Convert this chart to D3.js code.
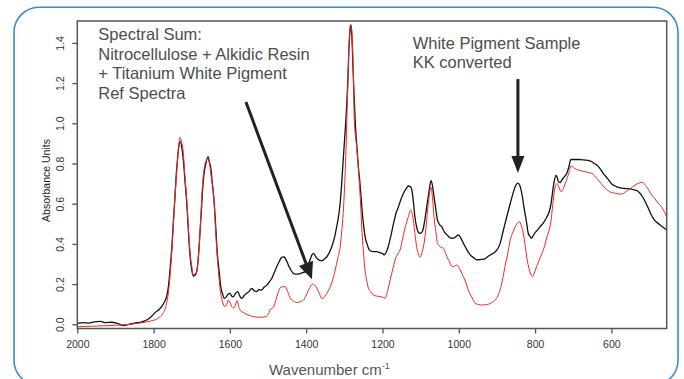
<!DOCTYPE html>
<html>
<head>
<meta charset="utf-8">
<script src="https://cdn.jsdelivr.net/npm/d3@7"></script>
<style>
  body { margin: 0; background: #fff; }
  svg { display: block; font-family: "Liberation Sans", Arial, sans-serif; }
</style>
</head>
<body>
<div id="chart"></div>
<script>
// White pigment sample (black) vs spectral sum of reference spectra (red)
// [wavenumber cm-1, absorbance]
const sampleSpectrum = [
  [2000,0.004],[1985,0.008],[1970,0.006],[1955,0.012],[1940,0.014],[1925,0.008],[1910,0.010],[1895,0.004],
  [1880,-0.006],[1865,0.000],[1850,0.006],[1835,0.010],[1818,0.021],[1805,0.040],[1796,0.058],[1785,0.075],
  [1779,0.088],[1772,0.11],[1766,0.137],[1761,0.19],[1757,0.27],[1752,0.39],[1748,0.519],[1744,0.63],
  [1741,0.734],[1737,0.83],[1733,0.895],[1730,0.909],[1726,0.88],[1722,0.817],[1718,0.72],[1713,0.602],
  [1709,0.47],[1705,0.353],[1700,0.27],[1696,0.24],[1691,0.245],[1687,0.262],[1682,0.35],[1678,0.469],
  [1674,0.59],[1671,0.685],[1667,0.76],[1663,0.80],[1657,0.834],[1654,0.81],[1650,0.776],[1646,0.70],
  [1641,0.602],[1637,0.48],[1633,0.353],[1628,0.26],[1624,0.187],[1619,0.15],[1615,0.129],[1610,0.135],
  [1605,0.15],[1600,0.154],[1595,0.14],[1591,0.137],[1585,0.155],[1579,0.162],[1574,0.14],[1569,0.129],
  [1562,0.145],[1556,0.154],[1549,0.165],[1543,0.179],[1537,0.168],[1530,0.162],[1524,0.172],[1517,0.17],
  [1510,0.185],[1503,0.195],[1497,0.21],[1490,0.229],[1483,0.26],[1477,0.287],[1470,0.315],[1464,0.333],
  [1458,0.335],[1455,0.328],[1450,0.31],[1445,0.287],[1440,0.27],[1434,0.254],[1428,0.25],[1421,0.25],
  [1412,0.255],[1403,0.262],[1396,0.29],[1390,0.32],[1385,0.345],[1381,0.353],[1376,0.34],[1372,0.328],
  [1365,0.318],[1359,0.316],[1352,0.325],[1346,0.336],[1340,0.355],[1333,0.386],[1326,0.43],[1320,0.486],
  [1315,0.54],[1311,0.602],[1307,0.70],[1303,0.817],[1299,0.93],[1296,1.016],[1291,1.207],[1288,1.373],
  [1285,1.46],[1283,1.49],[1281,1.46],[1279,1.373],[1276,1.207],[1271,0.99],[1267,0.88],[1263,0.78],
  [1259,0.70],[1254,0.58],[1250,0.50],[1245,0.43],[1241,0.403],[1237,0.38],[1233,0.366],[1224,0.362],
  [1215,0.361],[1206,0.355],[1198,0.35],[1196,0.345],[1190,0.36],[1185,0.386],[1178,0.44],[1171,0.502],
  [1165,0.55],[1158,0.585],[1152,0.62],[1145,0.652],[1138,0.675],[1132,0.688],[1127,0.685],[1123,0.668],
  [1119,0.61],[1115,0.535],[1110,0.48],[1103,0.453],[1098,0.455],[1094,0.469],[1089,0.52],[1084,0.585],
  [1078,0.66],[1073,0.715],[1069,0.69],[1065,0.635],[1060,0.57],[1056,0.519],[1050,0.495],[1045,0.486],
  [1038,0.46],[1031,0.445],[1024,0.432],[1018,0.428],[1010,0.432],[1005,0.44],[1001,0.445],[995,0.43],
  [988,0.403],[980,0.375],[970,0.345],[960,0.33],[953,0.32],[945,0.322],[935,0.323],[925,0.335],
  [918,0.345],[908,0.355],[900,0.37],[892,0.40],[883,0.469],[875,0.53],[865,0.602],[858,0.65],
  [852,0.685],[845,0.702],[840,0.69],[835,0.652],[829,0.58],[822,0.502],[818,0.453],[813,0.436],
  [810,0.428],[805,0.44],[800,0.456],[793,0.47],[787,0.486],[778,0.505],[769,0.535],[763,0.56],
  [758,0.602],[754,0.66],[751,0.70],[745,0.741],[742,0.73],[739,0.71],[734,0.705],[730,0.718],
  [723,0.735],[717,0.75],[712,0.78],[706,0.82],[696,0.82],[686,0.82],[676,0.818],[669,0.817],
  [660,0.815],[651,0.809],[645,0.80],[638,0.793],[630,0.775],[621,0.75],[610,0.725],[599,0.698],
  [587,0.685],[573,0.677],[560,0.675],[547,0.672],[538,0.668],[529,0.66],[522,0.645],[516,0.627],
  [510,0.605],[503,0.577],[497,0.55],[490,0.527],[484,0.512],[477,0.502],[470,0.49],[464,0.482],[455,0.469]
];

const refSumSpectrum = [
  [2000,-0.012],[1950,-0.009],[1900,-0.005],[1860,0.000],[1840,0.005],[1818,0.012],[1800,0.02],[1792,0.025],
  [1785,0.035],[1775,0.055],[1770,0.075],[1766,0.104],[1761,0.16],[1757,0.237],[1752,0.37],[1748,0.50],
  [1744,0.64],[1739,0.768],[1735,0.87],[1731,0.93],[1727,0.91],[1722,0.85],[1718,0.74],[1713,0.618],
  [1709,0.49],[1705,0.37],[1700,0.29],[1696,0.245],[1691,0.25],[1687,0.262],[1682,0.35],[1678,0.469],
  [1674,0.62],[1670,0.734],[1666,0.79],[1661,0.817],[1657,0.826],[1652,0.78],[1648,0.72],[1643,0.652],
  [1639,0.52],[1635,0.39],[1630,0.26],[1624,0.154],[1619,0.11],[1613,0.088],[1608,0.1],[1604,0.121],
  [1599,0.105],[1595,0.088],[1590,0.08],[1585,0.10],[1581,0.118],[1577,0.09],[1573,0.07],[1566,0.06],
  [1560,0.053],[1550,0.045],[1543,0.04],[1530,0.036],[1517,0.035],[1508,0.037],[1503,0.041],[1498,0.055],
  [1495,0.071],[1490,0.078],[1486,0.085],[1481,0.11],[1477,0.138],[1472,0.165],[1469,0.18],[1462,0.187],
  [1455,0.187],[1450,0.17],[1447,0.154],[1442,0.132],[1438,0.121],[1430,0.112],[1425,0.108],[1416,0.112],
  [1407,0.121],[1400,0.145],[1394,0.17],[1388,0.19],[1384,0.20],[1378,0.195],[1372,0.18],[1365,0.15],
  [1359,0.129],[1355,0.13],[1351,0.138],[1344,0.16],[1337,0.187],[1330,0.225],[1324,0.27],[1317,0.33],
  [1311,0.386],[1307,0.46],[1303,0.552],[1299,0.70],[1296,0.85],[1293,1.05],[1290,1.25],[1287,1.42],
  [1284,1.49],[1282,1.48],[1279,1.40],[1276,1.22],[1274,1.016],[1268,0.89],[1263,0.768],[1258,0.62],
  [1254,0.469],[1250,0.36],[1246,0.27],[1241,0.215],[1237,0.18],[1230,0.16],[1224,0.146],[1215,0.14],
  [1206,0.138],[1200,0.135],[1193,0.129],[1186,0.17],[1180,0.22],[1173,0.275],[1167,0.32],[1160,0.35],
  [1154,0.37],[1147,0.43],[1140,0.486],[1133,0.53],[1126,0.569],[1121,0.54],[1117,0.486],[1113,0.42],
  [1109,0.37],[1105,0.345],[1101,0.333],[1096,0.36],[1091,0.403],[1086,0.48],[1080,0.602],[1076,0.66],
  [1073,0.682],[1069,0.63],[1065,0.535],[1060,0.46],[1056,0.403],[1049,0.386],[1040,0.378],[1035,0.355],
  [1031,0.336],[1024,0.31],[1018,0.287],[1010,0.29],[1005,0.295],[1001,0.287],[995,0.265],[988,0.237],
  [980,0.2],[975,0.17],[966,0.135],[957,0.104],[948,0.098],[940,0.096],[930,0.097],[922,0.1],
  [913,0.108],[905,0.12],[898,0.14],[892,0.17],[885,0.225],[879,0.287],[872,0.35],[865,0.42],
  [858,0.46],[852,0.486],[845,0.505],[841,0.511],[836,0.49],[831,0.453],[826,0.39],[822,0.336],
  [815,0.27],[810,0.245],[807,0.237],[802,0.255],[796,0.287],[789,0.32],[782,0.353],[775,0.39],
  [769,0.436],[763,0.47],[758,0.519],[754,0.59],[749,0.668],[745,0.695],[743,0.701],[738,0.685],
  [732,0.66],[727,0.67],[721,0.701],[717,0.72],[713,0.743],[706,0.787],[696,0.775],[686,0.767],
  [676,0.762],[669,0.759],[660,0.755],[651,0.751],[645,0.74],[638,0.726],[627,0.70],[616,0.677],
  [605,0.66],[590,0.652],[580,0.648],[573,0.648],[565,0.655],[556,0.668],[547,0.68],[538,0.693],
  [528,0.702],[519,0.706],[513,0.698],[508,0.685],[501,0.665],[494,0.643],[486,0.625],[477,0.602],
  [470,0.588],[464,0.569],[458,0.548],[455,0.532]
];

const xTicks = [2000, 1800, 1600, 1400, 1200, 1000, 800, 600];
const yTicks = [0.0, 0.2, 0.4, 0.6, 0.8, 1.0, 1.2, 1.4];

// annotation texts and arrows, anchored in data units
const leftNote = ['Spectral Sum:', 'Nitrocellulose + Alkidic Resin', '+ Titanium White Pigment', 'Ref Spectra'];
const leftNoteAt = [1945, 1.414];
const rightNote = ['White Pigment Sample', 'KK converted'];
const rightNoteAt = [1121, 1.37];
const arrows = [
  {from: [1558, 1.106], to: [1385, 0.224], head: 17, half: 7.5, width: 3},
  {from: [845, 1.22], to: [845, 0.753], head: 17, half: 6.5, width: 3}
];

const width = 684, height = 379;
const plot = {left: 77.3, right: 666.7, top: 21, bottom: 328.5};

const svg = d3.select('#chart').append('svg')
    .attr('width', width)
    .attr('height', height);

// rounded blue frame
svg.append('rect')
    .attr('x', 14).attr('y', 7.3)
    .attr('width', 664).attr('height', 378)
    .attr('rx', 25).attr('ry', 25)
    .attr('fill', 'none')
    .attr('stroke', '#3a8acb')
    .attr('stroke-width', 1.6);

const x = d3.scaleLinear().domain([2000, 455]).range([plot.left, plot.right]);
const y = d3.scaleLinear().domain([-0.021, 1.509]).range([plot.bottom, plot.top]);

const line = d3.line()
    .x((d) => x(d[0]))
    .y((d) => y(d[1]))
    .curve(d3.curveMonotoneX);

// x axis
const xAxis = svg.append('g')
    .attr('transform', 'translate(0,' + plot.bottom + ')')
    .call(d3.axisBottom(x).tickValues(xTicks).tickSize(5).tickPadding(7).tickFormat(d3.format('d')));
xAxis.select('.domain').remove();
xAxis.selectAll('line').attr('stroke', '#555').attr('stroke-width', 1.3);
xAxis.selectAll('text').attr('fill', '#333').style('font-size', '10.5px');

// y axis, labels turned like R does
const yAxis = svg.append('g')
    .attr('transform', 'translate(' + plot.left + ',0)')
    .call(d3.axisLeft(y).tickValues(yTicks).tickSize(5).tickFormat(d3.format('.1f')));
yAxis.select('.domain').remove();
yAxis.selectAll('line').attr('stroke', '#555').attr('stroke-width', 1.3);
yAxis.selectAll('text')
    .attr('transform', 'rotate(-90)')
    .attr('x', 0).attr('y', -13).attr('dy', 0)
    .attr('text-anchor', 'middle')
    .attr('fill', '#333')
    .style('font-size', '10.5px');

svg.append('text')
    .attr('transform', 'translate(49.5,180.5) rotate(-90)')
    .attr('text-anchor', 'middle')
    .attr('fill', '#222')
    .style('font-size', '10.5px')
    .text('Absorbance Units');

const xLabel = svg.append('text')
    .attr('x', 269).attr('y', 375)
    .attr('fill', '#555')
    .style('font-size', '15px')
    .text('Wavenumber cm');
xLabel.append('tspan')
    .attr('dy', -6)
    .style('font-size', '9px')
    .text('-1');

// spectra, clipped to the plot box
svg.append('clipPath').attr('id', 'clip')
    .append('rect')
    .attr('x', plot.left).attr('y', plot.top)
    .attr('width', plot.right - plot.left).attr('height', plot.bottom - plot.top);

const series = [
  {name: 'sample', data: sampleSpectrum, color: '#111', w: 1.3},
  {name: 'refSum', data: refSumSpectrum, color: '#ee2a24', w: 1.0}
];
svg.append('g').attr('clip-path', 'url(#clip)')
    .selectAll('path')
    .data(series)
    .enter().append('path')
    .attr('fill', 'none')
    .attr('stroke', (d) => d.color)
    .attr('stroke-width', (d) => d.w)
    .attr('stroke-linejoin', 'round')
    .attr('d', (d) => line(d.data));

// plot box
svg.append('rect')
    .attr('x', plot.left).attr('y', plot.top)
    .attr('width', plot.right - plot.left).attr('height', plot.bottom - plot.top)
    .attr('fill', 'none')
    .attr('stroke', '#555')
    .attr('stroke-width', 1.5);

// notes
function addNote(lines, at) {
  svg.append('g').selectAll('text')
      .data(lines)
      .enter().append('text')
      .attr('x', x(at[0]))
      .attr('y', (d, i) => y(at[1]) + i * 19.5)
      .attr('fill', '#4d4d4d')
      .style('font-size', '16.5px')
      .text((d) => d);
}
addNote(leftNote, leftNoteAt);
addNote(rightNote, rightNoteAt);

arrows.forEach((a) => {
  const x0 = x(a.from[0]), y0 = y(a.from[1]);
  const x1 = x(a.to[0]), y1 = y(a.to[1]);
  const len = Math.hypot(x1 - x0, y1 - y0);
  const ux = (x1 - x0) / len, uy = (y1 - y0) / len;
  const bx = x1 - ux * a.head, by = y1 - uy * a.head;
  svg.append('line')
      .attr('x1', x0).attr('y1', y0)
      .attr('x2', bx + ux * 2).attr('y2', by + uy * 2)
      .attr('stroke', '#222')
      .attr('stroke-width', a.width);
  svg.append('path')
      .attr('d', 'M' + x1 + ',' + y1 +
          'L' + (bx - uy * a.half) + ',' + (by + ux * a.half) +
          'L' + (bx + uy * a.half) + ',' + (by - ux * a.half) + 'Z')
      .attr('fill', '#222');
});
</script>
</body>
</html>
